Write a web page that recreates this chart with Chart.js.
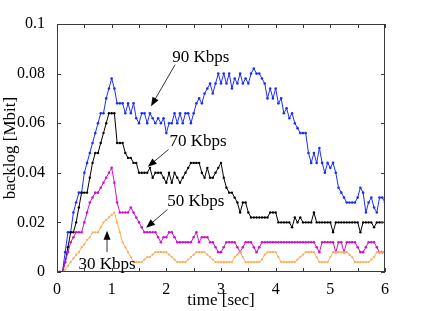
<!DOCTYPE html>
<html>
<head>
<meta charset="utf-8">
<script src="https://cdn.jsdelivr.net/npm/chart.js@4.4.1/dist/chart.umd.min.js"></script>
<style>
  html, body { margin: 0; padding: 0; background: #fff; }
  #wrap { width: 424px; height: 311px; }
</style>
</head>
<body>
<div id="wrap"><canvas id="backlog" width="424" height="311"></canvas></div>
<script>
// sampling interval of the traces (sec)
const timeStep = 0.05

const blue90 = [0,0,0,0.008,0.016,0.016,0.024,0.028,0.032,0.032,
  0.040,0.044,0.048,0.052,0.056,0.060,0.064,0.064,0.070,0.074,
  0.078,0.074,0.068,0.068,0.068,0.064,0.068,0.064,0.068,0.062,
  0.060,0.064,0.064,0.060,0.064,0.062,0.060,0.062,0.060,0.062,
  0.056,0.060,0.060,0.064,0.060,0.064,0.060,0.064,0.064,0.060,
  0.064,0.068,0.070,0.068,0.072,0.074,0.076,0.072,0.076,0.080,
  0.076,0.080,0.076,0.080,0.074,0.078,0.076,0.080,0.076,0.078,
  0.076,0.080,0.082,0.080,0.080,0.078,0.076,0.070,0.074,0.070,
  0.074,0.068,0.070,0.064,0.066,0.062,0.064,0.060,0.058,0.056,
  0.056,0.056,0.048,0.044,0.048,0.044,0.050,0.044,0.040,0.044,
  0.042,0.044,0.040,0.034,0.032,0.030,0.028,0.028,0.028,0.028,
  0.030,0.034,0.032,0.024,0.028,0.030,0.026,0.024,0.030,0.030,
  0.028]

const black70 = [0,0,0,0.004,0.010,0.016,0.016,0.020,0.026,0.032,
  0.032,0.032,0.038,0.044,0.048,0.048,0.052,0.056,0.060,0.064,
  0.064,0.064,0.052,0.052,0.052,0.048,0.046,0.046,0.044,0.044,
  0.040,0.040,0.040,0.040,0.042,0.038,0.040,0.040,0.040,0.038,
  0.036,0.040,0.036,0.040,0.038,0.036,0.038,0.040,0.042,0.044,
  0.044,0.044,0.044,0.040,0.038,0.042,0.038,0.038,0.040,0.042,
  0.044,0.038,0.034,0.032,0.032,0.030,0.028,0.024,0.028,0.028,
  0.024,0.022,0.022,0.022,0.022,0.022,0.022,0.022,0.024,0.024,
  0.024,0.020,0.020,0.020,0.020,0.020,0.018,0.022,0.020,0.022,
  0.020,0.020,0.020,0.020,0.024,0.020,0.020,0.020,0.020,0.020,
  0.020,0.016,0.020,0.020,0.020,0.020,0.020,0.020,0.020,0.020,
  0.020,0.016,0.020,0.020,0.020,0.020,0.018,0.020,0.020,0.020,
  0.020]

const magenta50 = [0,0,0,0.004,0.008,0.012,0.014,0.016,0.016,0.016,
  0.020,0.024,0.028,0.030,0.032,0.032,0.034,0.036,0.038,0.040,
  0.042,0.036,0.028,0.024,0.024,0.024,0.024,0.026,0.024,0.022,
  0.020,0.018,0.016,0.016,0.016,0.016,0.016,0.014,0.012,0.014,
  0.014,0.016,0.016,0.014,0.012,0.012,0.012,0.012,0.012,0.012,
  0.014,0.016,0.012,0.014,0.014,0.014,0.012,0.012,0.010,0.008,
  0.008,0.010,0.012,0.012,0.012,0.012,0.010,0.008,0.010,0.012,
  0.012,0.012,0.010,0.008,0.010,0.012,0.012,0.012,0.012,0.012,
  0.012,0.012,0.012,0.012,0.012,0.012,0.012,0.012,0.012,0.012,
  0.012,0.012,0.012,0.012,0.012,0.010,0.008,0.012,0.012,0.012,
  0.012,0.012,0.008,0.012,0.012,0.008,0.012,0.012,0.012,0.012,
  0.010,0.008,0.008,0.010,0.012,0.012,0.012,0.010,0.008,0.008,
  0.008]

const orange30 = [0,0,0,0.001,0.0025,0.004,0.0055,0.007,0.008,0.010,
  0.011,0.013,0.014,0.016,0.016,0.016,0.018,0.020,0.021,0.022,
  0.023,0.024,0.020,0.016,0.012,0.010,0.008,0.006,0.004,0.004,
  0.004,0.004,0.005,0.006,0.006,0.007,0.008,0.008,0.008,0.008,
  0.008,0.007,0.006,0.005,0.004,0.004,0.004,0.004,0.005,0.006,
  0.007,0.008,0.008,0.008,0.008,0.007,0.006,0.005,0.004,0.004,
  0.004,0.004,0.004,0.004,0.004,0.006,0.007,0.008,0.006,0.004,
  0.004,0.004,0.004,0.004,0.004,0.005,0.007,0.008,0.008,0.008,
  0.008,0.006,0.004,0.004,0.004,0.004,0.004,0.004,0.005,0.006,
  0.007,0.008,0.008,0.008,0.008,0.006,0.004,0.004,0.004,0.004,
  0.006,0.008,0.008,0.008,0.008,0.008,0.008,0.007,0.006,0.004,
  0.004,0.004,0.004,0.004,0.004,0.005,0.006,0.008,0.008,0.008,
  0.008]

const seriesNames = ['90 Kbps', '70 Kbps', '50 Kbps', '30 Kbps']
const xTickLabels = ['0', '1', '2', '3', '4', '5', '6']
const yTickLabels = ['0', '0.02', '0.04', '0.06', '0.08', '0.1']

// callouts: label position and arrow (tail -> head) in data units
const callouts = [
  {text: seriesNames[0], tx: 2.63, ty: 0.0866, x1: 2.16, y1: 0.0836, x2: 1.72, y2: 0.0668},
  {text: seriesNames[1], tx: 2.58, ty: 0.0527, x1: 2.04, y1: 0.0494, x2: 1.66, y2: 0.0424},
  {text: seriesNames[2], tx: 2.54, ty: 0.0284, x1: 2.02, y1: 0.0252, x2: 1.63, y2: 0.0178},
  {text: seriesNames[3], tx: 0.915, ty: 0.0031, x1: 0.915, y1: 0.0080, x2: 0.915, y2: 0.0166},
]

const serif = "'Liberation Serif', 'Times New Roman', serif"

function toPoints(values){
  return values.map((v, i) => ({x: +(i * timeStep).toFixed(2), y: v}))
}

function makeSet(label, values, color, radius){
  return {
    label,
    data: toPoints(values),
    borderColor: color,
    backgroundColor: color,
    borderWidth: 1,
    pointRadius: radius,
    pointBorderWidth: 0,
    pointBackgroundColor: color,
    tension: 0,
    fill: false,
  }
}

const frameAndNotes = {
  id: 'frameAndNotes',
  afterDraw(chart){
    const {ctx, chartArea: a, scales: {x, y}} = chart
    ctx.save()
    // box
    ctx.strokeStyle = '#3a3a3a'
    ctx.lineWidth = 1
    ctx.strokeRect(a.left + 0.5, a.top + 0.5, a.right - a.left - 1, a.bottom - a.top - 1)
    // inward ticks
    const len = 4
    ctx.beginPath()
    for(let t = 0; t <= 6.0001; t += 0.5){
      const px = Math.round(x.getPixelForValue(t)) + 0.5
      ctx.moveTo(px, a.bottom); ctx.lineTo(px, a.bottom - len)
      ctx.moveTo(px, a.top); ctx.lineTo(px, a.top + len)
    }
    for(let v = 0; v <= 0.10001; v += 0.02){
      const py = Math.round(y.getPixelForValue(v)) + 0.5
      ctx.moveTo(a.left, py); ctx.lineTo(a.left + len, py)
      ctx.moveTo(a.right, py); ctx.lineTo(a.right - len, py)
    }
    ctx.stroke()

    // callouts
    ctx.fillStyle = '#000'
    ctx.strokeStyle = '#000'
    ctx.font = '17px ' + serif
    ctx.textAlign = 'center'
    ctx.textBaseline = 'middle'
    callouts.forEach(c => {
      ctx.fillText(c.text, x.getPixelForValue(c.tx), y.getPixelForValue(c.ty))
      const x1 = x.getPixelForValue(c.x1), y1 = y.getPixelForValue(c.y1)
      const x2 = x.getPixelForValue(c.x2), y2 = y.getPixelForValue(c.y2)
      const ang = Math.atan2(y2 - y1, x2 - x1)
      const hl = 9, hw = 3.5
      ctx.beginPath()
      ctx.moveTo(x1, y1)
      ctx.lineTo(x2 - Math.cos(ang) * hl * 0.8, y2 - Math.sin(ang) * hl * 0.8)
      ctx.lineWidth = 0.8
      ctx.stroke()
      ctx.beginPath()
      ctx.moveTo(x2, y2)
      ctx.lineTo(x2 - Math.cos(ang) * hl - Math.sin(ang) * hw, y2 - Math.sin(ang) * hl + Math.cos(ang) * hw)
      ctx.lineTo(x2 - Math.cos(ang) * hl + Math.sin(ang) * hw, y2 - Math.sin(ang) * hl - Math.cos(ang) * hw)
      ctx.closePath()
      ctx.fill()
    })
    ctx.restore()
  }
}

const ctx = document.getElementById('backlog').getContext('2d')
const chart = new Chart(ctx, {
  type: 'line',
  data: {
    datasets: [
      makeSet(seriesNames[3], orange30, '#ffaa55', 1.1),
      makeSet(seriesNames[2], magenta50, '#cc11cc', 1.3),
      makeSet(seriesNames[1], black70, '#000000', 1.2),
      makeSet(seriesNames[0], blue90, '#1a2dff', 1.3),
    ]
  },
  options: {
    responsive: false,
    animation: false,
    layout: {padding: {top: 24, right: 39, left: 0, bottom: 0}},
    plugins: {
      legend: {display: false},
      tooltip: {enabled: false},
      title: {display: false},
    },
    scales: {
      x: {
        type: 'linear',
        min: 0, max: 6,
        grid: {display: false},
        border: {display: false},
        ticks: {
          stepSize: 1,
          color: '#000',
          font: {family: serif, size: 16},
          padding: 0,
          maxRotation: 0,
          callback: (v) => xTickLabels[v] ?? '',
        },
        title: {display: true, text: 'time [sec]', color: '#000', font: {family: serif, size: 17}, padding: 0},
        afterFit(scale){ scale.height = 39 },
      },
      y: {
        min: 0, max: 0.1,
        grid: {display: false},
        border: {display: false},
        ticks: {
          stepSize: 0.02,
          color: '#000',
          font: {family: serif, size: 16},
          padding: 4,
          callback: (v) => yTickLabels[Math.round(v / 0.02)] ?? '',
        },
        title: {display: true, text: 'backlog [Mbit]', color: '#000', font: {family: serif, size: 17}, padding: 0},
        afterFit(scale){ scale.width = 57 },
      }
    }
  },
  plugins: [frameAndNotes]
})
</script>
</body>
</html>
